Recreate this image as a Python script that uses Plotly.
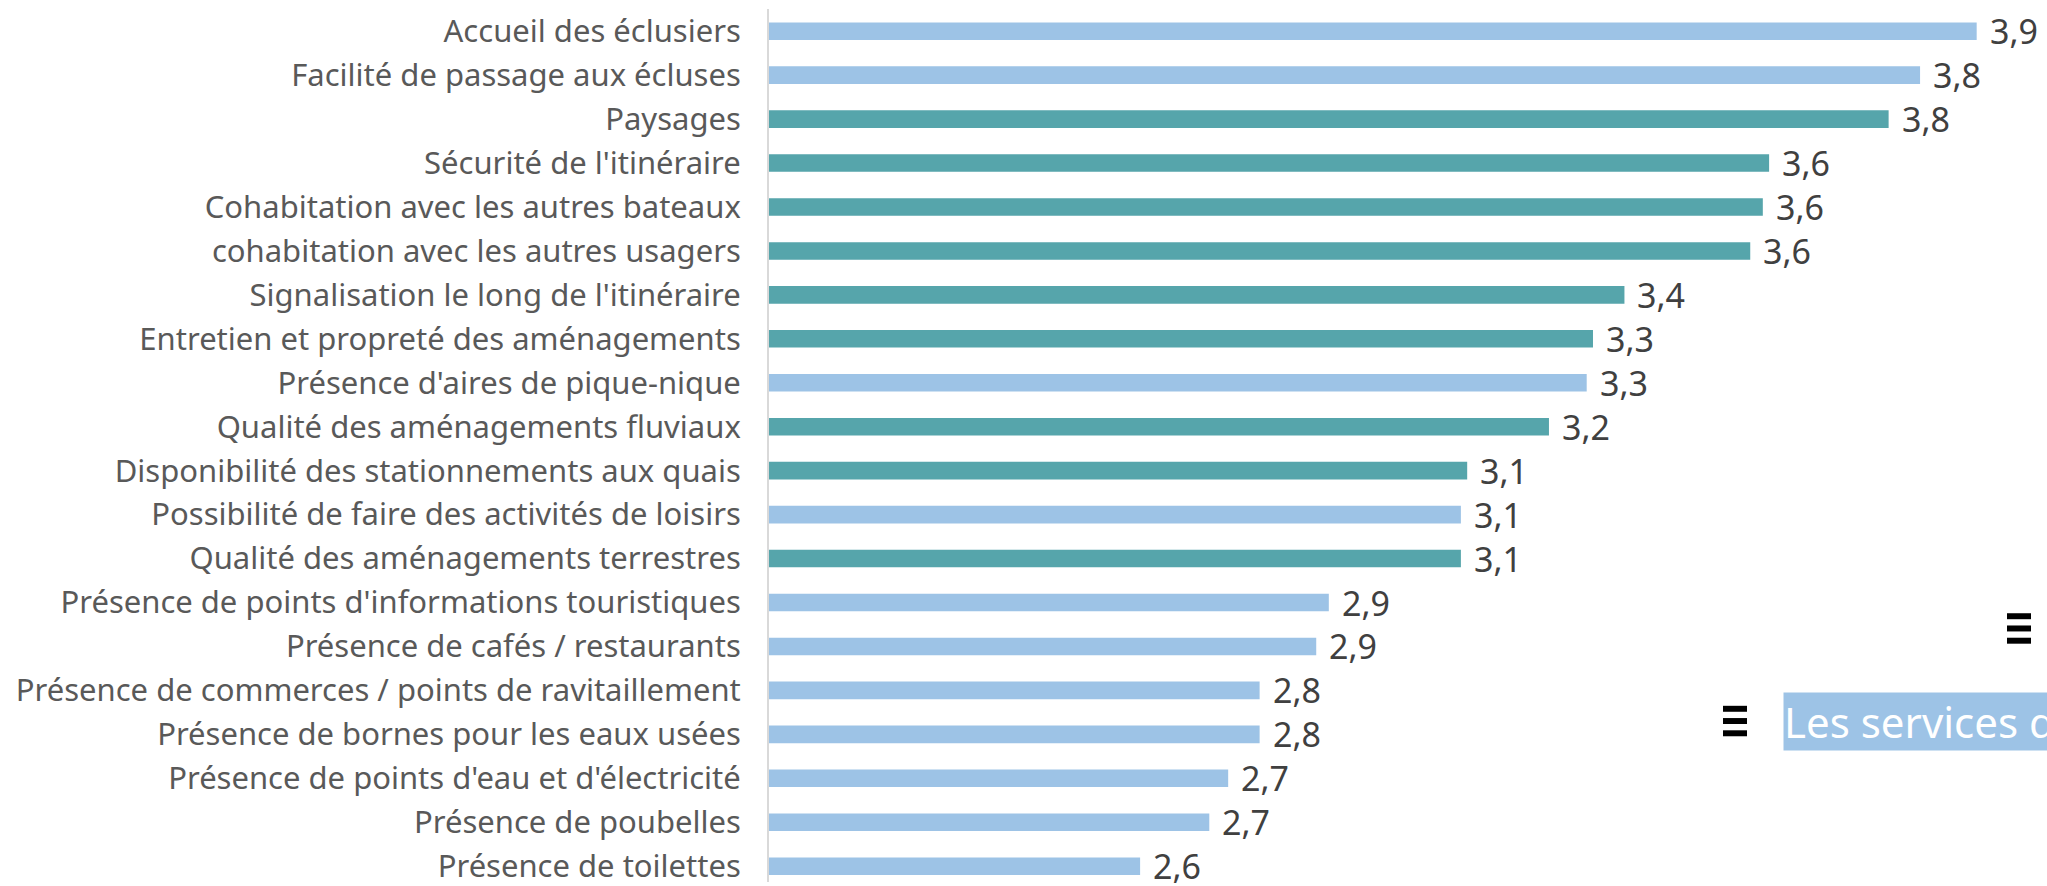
import plotly.graph_objects as go

# Satisfaction scores (1-4 scale), listed top to bottom
categories = [
    "Accueil des éclusiers",
    "Facilité de passage aux écluses",
    "Paysages",
    "Sécurité de l'itinéraire",
    "Cohabitation avec les autres bateaux",
    "cohabitation avec les autres usagers",
    "Signalisation le long de l'itinéraire",
    "Entretien et propreté des aménagements",
    "Présence d'aires de pique-nique",
    "Qualité des aménagements fluviaux",
    "Disponibilité des stationnements aux quais",
    "Possibilité de faire des activités de loisirs",
    "Qualité des aménagements terrestres",
    "Présence de points d'informations touristiques",
    "Présence de cafés / restaurants",
    "Présence de commerces / points de ravitaillement",
    "Présence de bornes pour les eaux usées",
    "Présence de points d'eau et d'électricité",
    "Présence de poubelles",
    "Présence de toilettes",
]
scores = [3.92, 3.83, 3.78, 3.59, 3.58, 3.56, 3.36, 3.31, 3.30, 3.24,
          3.11, 3.10, 3.10, 2.89, 2.87, 2.78, 2.78, 2.73, 2.70, 2.59]
groups = ["services", "services", "amenagements", "amenagements", "amenagements",
          "amenagements", "amenagements", "amenagements", "services", "amenagements",
          "amenagements", "services", "amenagements", "services", "services",
          "services", "services", "services", "services", "services"]

group_names = {"amenagements": "Les aménagements", "services": "Les services disponibles"}
group_colors = {"amenagements": "#56A5AB", "services": "#9DC3E6"}

W, H = 2047, 886
ML, MT = 769, 9
PW, PH = W - ML, H - MT
n = len(categories)
px_per_unit = 629.0
x_min = 2.0
x_max = x_min + PW / px_per_unit

FONT = "Noto Sans"

fig = go.Figure()
fig.add_trace(go.Bar(
    x=scores,
    y=categories,
    orientation="h",
    width=0.4,
    marker=dict(color=[group_colors[g] for g in groups], line=dict(width=0)),
    showlegend=False,
    hoverinfo="x+y",
))

# value labels to the right of each bar
for cat, v in zip(categories, scores):
    fig.add_annotation(
        x=v, y=cat, xref="x", yref="y",
        text=f"{v:.1f}".replace(".", ","),
        showarrow=False, xanchor="left", yanchor="middle", xshift=11,
        font=dict(family=FONT, size=34, color="#404040"),
    )


def px_x(p):
    return (p - ML) / PW


def px_y(p):
    return (H - p) / PH


# legend: "≡" icons and the highlighted series label
def legend_icon(x0, y0):
    for k in range(3):
        top = y0 + k * 12.3
        fig.add_shape(type="rect", xref="paper", yref="paper",
                      x0=px_x(x0), x1=px_x(x0 + 24),
                      y0=px_y(top + 6), y1=px_y(top),
                      fillcolor="#000000", line=dict(width=0), layer="above")


legend_icon(2007, 616)
legend_icon(1723, 709)

fig.add_annotation(
    xref="paper", yref="paper", x=px_x(1783), y=px_y(725),
    text=group_names["services"], showarrow=False,
    xanchor="left", yanchor="middle",
    bgcolor=group_colors["services"], borderpad=0,
    font=dict(family=FONT, size=42, color="#FFFFFF"),
)

fig.update_layout(
    width=W, height=H,
    margin=dict(l=ML, r=0, t=MT, b=0, pad=0),
    paper_bgcolor="#FFFFFF", plot_bgcolor="#FFFFFF",
    showlegend=False,
    xaxis=dict(range=[x_min, x_max], visible=False, showgrid=False, zeroline=False),
    yaxis=dict(
        type="category",
        categoryorder="array", categoryarray=categories,
        range=[n - 1 + 0.36, -0.505],
        showline=True, linecolor="#D9D9D9", linewidth=2,
        showgrid=False, zeroline=False, ticks="",
        ticklabelstandoff=20,
        tickfont=dict(family=FONT, size=31, color="#595959"),
    ),
)

fig.write_html("out.html")
